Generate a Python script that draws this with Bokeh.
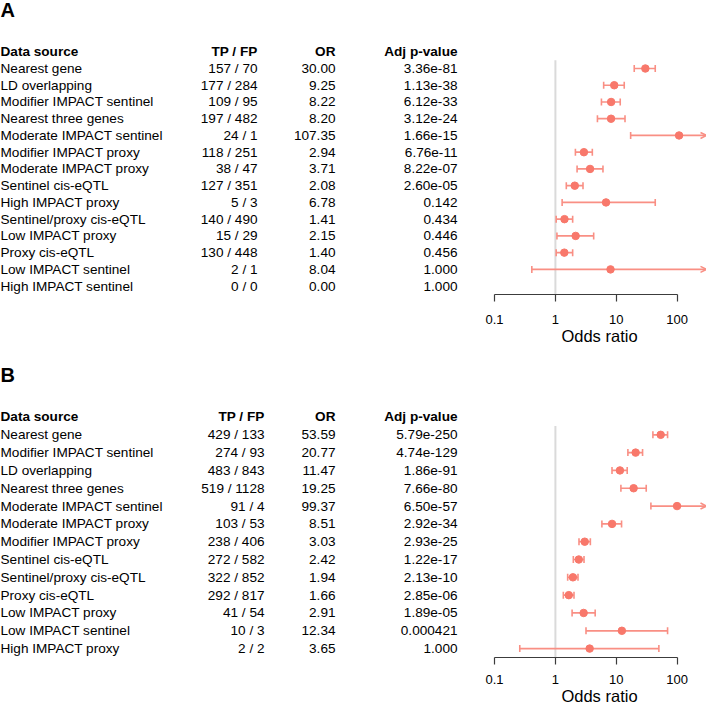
import math
from bokeh.plotting import figure
from bokeh.layouts import column, row
from bokeh.models import Range1d, FixedTicker, Whisker, TeeHead, OpenHead, ColumnDataSource
from bokeh.core.properties import value
from bokeh.embed import file_html
from bokeh.resources import INLINE

# ---------------- data ----------------
header = ["Data source", "TP / FP", "OR", "Adj p-value"]
axis_ticks = [0.1, 1, 10, 100]
axis_title = "Odds ratio"

a_source = ["Nearest gene", "LD overlapping", "Modifier IMPACT sentinel", "Nearest three genes",
            "Moderate IMPACT sentinel", "Modifier IMPACT proxy", "Moderate IMPACT proxy",
            "Sentinel cis-eQTL", "High IMPACT proxy", "Sentinel/proxy cis-eQTL",
            "Low IMPACT proxy", "Proxy cis-eQTL", "Low IMPACT sentinel", "High IMPACT sentinel"]
a_tpfp = ["157 / 70", "177 / 284", "109 / 95", "197 / 482", "24 / 1", "118 / 251", "38 / 47",
          "127 / 351", "5 / 3", "140 / 490", "15 / 29", "130 / 448", "2 / 1", "0 / 0"]
a_or = [30.00, 9.25, 8.22, 8.20, 107.35, 2.94, 3.71, 2.08, 6.78, 1.41, 2.15, 1.40, 8.04, 0.00]
a_pval = ["3.36e-81", "1.13e-38", "6.12e-33", "3.12e-24", "1.66e-15", "6.76e-11", "8.22e-07",
          "2.60e-05", "0.142", "0.434", "0.446", "0.456", "1.000", "1.000"]
a_ci_lo = [19.7, 6.2, 5.7, 4.9, 17.2, 2.13, 2.27, 1.51, 1.29, 1.03, 1.06, 1.03, 0.41, None]
a_ci_hi = [43.6, 13.5, 11.6, 13.9, math.inf, 4.04, 6.04, 2.84, 43.6, 1.92, 4.25, 1.92, math.inf, None]

b_source = ["Nearest gene", "Modifier IMPACT sentinel", "LD overlapping", "Nearest three genes",
            "Moderate IMPACT sentinel", "Moderate IMPACT proxy", "Modifier IMPACT proxy",
            "Sentinel cis-eQTL", "Sentinel/proxy cis-eQTL", "Proxy cis-eQTL",
            "Low IMPACT proxy", "Low IMPACT sentinel", "High IMPACT proxy"]
b_tpfp = ["429 / 133", "274 / 93", "483 / 843", "519 / 1128", "91 / 4", "103 / 53", "238 / 406",
          "272 / 582", "322 / 852", "292 / 817", "41 / 54", "10 / 3", "2 / 2"]
b_or = [53.59, 20.77, 11.47, 19.25, 99.37, 8.51, 3.03, 2.42, 1.94, 1.66, 2.91, 12.34, 3.65]
b_pval = ["5.79e-250", "4.74e-129", "1.86e-91", "7.66e-80", "6.50e-57", "2.92e-34", "2.93e-25",
          "1.22e-17", "2.13e-10", "2.85e-06", "1.89e-05", "0.000421", "1.000"]
b_ci_lo = [39.9, 15.5, 8.5, 11.9, 37.0, 5.8, 2.44, 1.97, 1.59, 1.35, 1.88, 3.18, 0.26]
b_ci_hi = [69.5, 27.0, 15.1, 31.0, math.inf, 12.2, 3.75, 2.95, 2.35, 2.02, 4.5, 69.5, 50.0]

# ---------------- style ----------------
FONT = "Liberation Sans"
PT_COLOR = "#F8786B"
CI_COLOR = "#F98F84"
REF_COLOR = "#DADADA"
AXIS_COLOR = "#3C3C3C"
TABLE_W = 474
FOREST_W = 232
FOREST_LEFT = 18
DECADE = 60.9
X_LO = 10 ** (-1 - 2 / DECADE)
X_HI = 10 ** (-1 + (FOREST_W - FOREST_LEFT - 2) / DECADE)
COL_OR = 335
COL_P = 457


def make_panel(letter, letter_rel, src, tpfp, ors, pvals, lo, hi, fig_h, border_bottom,
               row1_rel, tpfp_right, label_standoff):
    n = len(src)
    frame_h = fig_h - border_bottom
    s = (frame_h - row1_rel) / (n - 0.5)
    y_top = 1 - row1_rel / s
    yr = Range1d(start=n + 0.5, end=y_top)
    rows = list(range(1, n + 1))

    # ---- table ----
    t = figure(width=TABLE_W, height=fig_h, x_range=Range1d(0, TABLE_W), y_range=yr,
               output_backend="svg", toolbar_location=None, x_axis_location=None,
               y_axis_location=None, min_border_left=0, min_border_right=0, min_border_top=0,
               min_border_bottom=border_bottom, outline_line_color=None)
    t.grid.visible = False
    common = dict(text_baseline="middle", text_font=value(FONT), text_color="black")
    t.text(x=[0], y=[1 + (letter_rel - row1_rel) / s], text=[letter], text_align="left",
           text_font_size=value("20px"), text_font_style="bold", **common)
    t.text(x=[0, tpfp_right, COL_OR, COL_P], y=[0, 0, 0, 0], text=header,
           text_align=["left", "right", "right", "right"],
           text_font_size=value("13.6px"), text_font_style="bold", **common)
    t.text(x=[0] * n, y=rows, text=src, text_align="left",
           text_font_size=value("13.6px"), **common)
    t.text(x=[tpfp_right] * n, y=rows, text=tpfp, text_align="right",
           text_font_size=value("13.6px"), **common)
    t.text(x=[COL_OR] * n, y=rows, text=[f"{v:.2f}" for v in ors], text_align="right",
           text_font_size=value("13.6px"), **common)
    t.text(x=[COL_P] * n, y=rows, text=pvals, text_align="right",
           text_font_size=value("13.6px"), **common)

    # ---- forest ----
    f = figure(width=FOREST_W, height=fig_h, x_axis_type="log", x_range=Range1d(X_LO, X_HI),
               y_range=yr, output_backend="svg", toolbar_location=None, y_axis_location=None,
               min_border_left=FOREST_LEFT, min_border_right=0, min_border_top=0,
               min_border_bottom=border_bottom, outline_line_color=None)
    f.grid.visible = False
    ax = f.xaxis[0]
    ax.ticker = FixedTicker(ticks=axis_ticks)
    ax.bounds = (axis_ticks[0], axis_ticks[-1])
    ax.minor_tick_line_color = None
    ax.major_tick_in = 0
    ax.major_tick_out = 7
    ax.axis_line_color = AXIS_COLOR
    ax.major_tick_line_color = AXIS_COLOR
    ax.axis_line_width = 1.2
    ax.major_tick_line_width = 1.2
    ax.major_label_standoff = label_standoff
    ax.major_label_text_font = FONT
    ax.major_label_text_font_size = "13px"
    ax.major_label_text_color = "black"
    ax.major_label_overrides = {0.1: "0.1", 1: "1", 10: "10", 100: "100"}
    ax.axis_label = axis_title
    ax.axis_label_text_font = FONT
    ax.axis_label_text_font_size = "16.5px"
    ax.axis_label_text_font_style = "normal"
    ax.axis_label_text_color = "black"
    ax.axis_label_standoff = 0

    f.segment(x0=[1], y0=[0.5], x1=[1], y1=[n + 0.5], line_color=REF_COLOR, line_width=2,
              level="underlay")

    norm = dict(y=[], lo=[], hi=[])
    arr = dict(y=[], lo=[], hi=[])
    for r, l, h in zip(rows, lo, hi):
        if l is None or h is None:
            continue
        if h > X_HI:
            arr["y"].append(r); arr["lo"].append(l); arr["hi"].append(X_HI)
        else:
            norm["y"].append(r); norm["lo"].append(l); norm["hi"].append(h)
    wk = dict(base="y", lower="lo", upper="hi", dimension="width", line_color=CI_COLOR,
              line_width=1.7, level="underlay")
    f.add_layout(Whisker(source=ColumnDataSource(norm),
                         lower_head=TeeHead(size=7, line_color=CI_COLOR, line_width=1.6),
                         upper_head=TeeHead(size=7, line_color=CI_COLOR, line_width=1.6), **wk))
    if arr["y"]:
        f.add_layout(Whisker(source=ColumnDataSource(arr),
                             lower_head=TeeHead(size=7, line_color=CI_COLOR, line_width=1.6),
                             upper_head=OpenHead(size=6, line_color=CI_COLOR, line_width=1.6), **wk))

    px = [o for o in ors if o > 0]
    py = [r for r, o in zip(rows, ors) if o > 0]
    f.scatter(x=px, y=py, size=7.5, fill_color=PT_COLOR, line_color=PT_COLOR)
    return row(t, f)


pA = make_panel("A", 9, a_source, a_tpfp, a_or, a_pval, a_ci_lo, a_ci_hi,
                fig_h=360, border_bottom=66, row1_rel=68, tpfp_right=257, label_standoff=13)
pB = make_panel("B", 14.5, b_source, b_tpfp, b_or, b_pval, b_ci_lo, b_ci_hi,
                fig_h=347, border_bottom=50, row1_rel=74.3, tpfp_right=264, label_standoff=10)

p = column(pA, pB)
open("out.html", "w").write(file_html(p, INLINE))
